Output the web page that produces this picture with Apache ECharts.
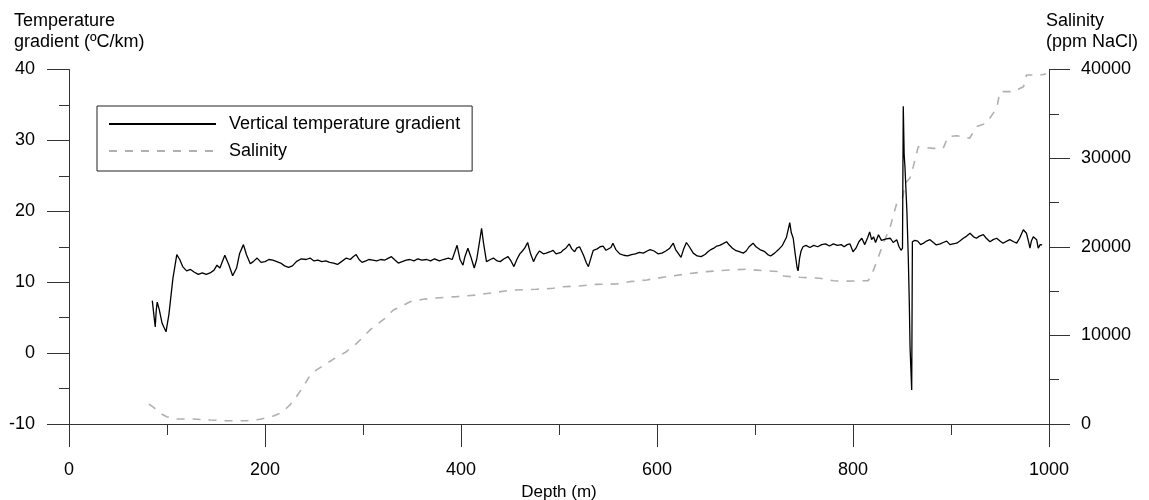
<!DOCTYPE html>
<html>
<head>
<meta charset="utf-8">
<script src="https://cdn.jsdelivr.net/npm/echarts@6.0.0/dist/echarts.min.js"></script>
<style>
  html, body { margin: 0; padding: 0; background: #fff; }
  #chart { width: 1149px; height: 500px; }
</style>
</head>
<body>
<div id="chart"></div>
<script>
// vertical temperature gradient (ºC/km) against depth (m)
const tempDepth = [85, 86.5, 88, 89, 90, 92, 95, 99, 102, 106, 110, 113, 116, 120, 124, 128, 132, 136, 140, 144,
    148, 151, 154, 159, 163, 167, 171, 174, 178, 181, 185, 188, 192, 196, 200, 204, 208, 212, 216, 220,
    224, 228, 232, 237, 242, 246, 250, 254, 258, 262, 266, 270, 274, 278, 283, 287, 290, 293, 296, 299,
    303, 306, 310, 314, 318, 322, 326, 329, 332, 336, 340, 344, 348, 352, 356, 360, 365, 369, 373, 378,
    382, 387, 391, 393, 396, 399, 402, 404, 407, 410, 413.5, 416, 419, 421, 423, 426, 430, 433, 437, 440,
    444, 448, 451, 454, 457, 460, 462, 465, 468, 471, 474, 477, 480, 484, 487, 491, 494, 497, 499, 502,
    504, 507, 510.5, 513, 516, 518, 521, 525, 528, 530, 533, 535, 539, 542, 545, 548, 550, 553, 555, 558,
    562, 566, 570, 574, 578, 582, 586, 590, 593, 597, 601, 605, 609, 613, 616.6, 619, 622, 624.5, 627, 630,
    633, 637, 641, 645, 649, 652, 655, 658, 661, 664, 667, 671, 674, 677, 680, 684, 688, 691, 694, 698,
    701, 705, 710, 713, 716, 720, 724, 728, 732, 735.5, 737, 739, 741, 743, 744, 745.5, 747, 749, 752, 756,
    760, 764, 768, 772, 776, 780, 784, 788, 791, 794, 797, 800, 803, 806, 809, 812, 815, 817, 819, 821,
    823, 826, 829, 831, 834, 838, 841, 844.6, 847, 849, 850.5, 851.3, 852.2, 853, 855, 856.4, 857.4, 858.2, 859.9, 860.6,
    863, 866, 869, 872, 875, 878.6, 882, 885, 889, 892, 895.6, 899, 902, 905.8, 909, 912.6, 916, 919.4, 923, 926,
    929, 933, 936, 939.8, 943, 946.6, 950, 953, 957, 960, 964, 967, 970, 973.8, 977, 979, 980.6, 982, 984, 987.4,
    989, 991, 993];
const tempValue = [7.4, 5.5, 3.7, 6.0, 7.2, 6.2, 4.2, 3.0, 5.5, 10.5, 13.9, 13.2, 12.2, 11.6, 11.8, 11.4, 11.1, 11.3, 11.1, 11.3,
    11.7, 12.4, 12.0, 13.8, 12.5, 10.9, 12.0, 14.0, 15.3, 13.9, 12.6, 12.9, 13.4, 12.8, 12.9, 13.2, 13.1, 12.9, 12.7, 12.3,
    12.1, 12.3, 12.9, 13.3, 13.2, 13.4, 13.0, 13.1, 12.9, 13.0, 12.8, 12.7, 12.5, 12.9, 13.4, 13.2, 13.6, 13.9, 13.2, 12.8,
    13.0, 13.2, 13.1, 13.0, 13.2, 13.1, 13.4, 13.6, 13.2, 12.7, 12.9, 13.1, 13.2, 13.0, 13.3, 13.1, 13.2, 13.0, 13.3, 13.0,
    13.2, 13.4, 13.2, 14.0, 15.2, 13.2, 12.4, 13.6, 14.8, 13.6, 12.0, 13.2, 15.8, 17.6, 15.5, 12.9, 13.2, 13.4, 13.0, 12.9,
    13.3, 13.6, 13.0, 12.2, 13.2, 14.0, 14.3, 14.8, 15.6, 14.0, 12.9, 13.8, 14.4, 14.0, 14.1, 14.3, 14.5, 14.0, 13.8, 14.2,
    14.5, 14.8, 15.4, 14.7, 14.3, 14.8, 15.0, 13.8, 12.7, 12.2, 13.6, 14.5, 14.7, 15.0, 15.1, 14.5, 14.3, 14.9, 15.5, 14.6,
    14.0, 13.8, 13.7, 13.9, 14.0, 14.2, 14.1, 14.4, 14.6, 14.4, 14.0, 14.1, 14.4, 14.8, 15.5, 14.6, 14.0, 13.5, 14.6, 15.6,
    15.0, 14.1, 13.7, 13.6, 13.9, 14.3, 14.6, 14.8, 15.1, 15.2, 15.4, 15.7, 15.2, 14.8, 14.5, 14.3, 14.1, 14.4, 15.0, 15.5,
    15.0, 14.6, 14.3, 13.9, 13.7, 14.1, 14.6, 15.2, 16.3, 18.4, 17.0, 16.2, 14.0, 12.0, 11.6, 13.4, 14.4, 15.0, 15.2, 14.9,
    15.2, 15.0, 15.3, 15.4, 15.1, 15.4, 15.2, 15.3, 15.0, 15.3, 15.4, 14.3, 14.8, 15.7, 16.2, 15.3, 16.3, 17.1, 16.0, 16.4,
    15.6, 16.7, 15.9, 15.7, 16.1, 16.2, 15.6, 16.0, 15.0, 14.5, 14.8, 34.8, 28.0, 26.3, 20.0, 13.6, 7.5, 0.9, -5.2, 15.7,
    15.9, 15.8, 15.3, 15.5, 15.8, 16.0, 15.6, 15.25, 15.4, 15.6, 15.8, 15.3, 15.4, 15.5, 15.8, 16.2, 16.5, 16.9, 16.4, 16.2,
    16.5, 16.7, 16.2, 15.7, 16.0, 16.2, 15.8, 15.5, 15.8, 16.0, 15.7, 15.5, 16.2, 17.4, 16.9, 15.8, 14.8, 15.8, 16.4, 16.0,
    14.8, 15.3, 15.25];

// salinity (ppm NaCl) against depth (m)
const salDepth = [81.6, 86, 89.5, 95, 99.7, 105, 110, 127, 144, 161, 181, 195, 208.5, 217, 225.5, 232, 239, 246, 252.7, 263,
    273, 283, 293.5, 300, 308, 315, 322.4, 331, 339.5, 348, 361.5, 375, 395.6, 416, 433, 453, 477, 494, 504, 521,
    538, 559, 572, 589.5, 610, 630, 650.7, 664, 677, 691.5, 708.5, 727, 729, 746, 766, 780, 788.5, 800, 815.6, 821,
    826, 831, 838, 844.6, 851, 853, 858, 861.5, 866.6, 882, 892, 897, 906, 919, 926, 936, 946.6, 950, 963.6, 974,
    977, 991, 997];
const salValue = [2250, 1900, 1580, 1100, 820, 650, 560, 560, 450, 370, 370, 530, 900, 1280, 2150, 3080, 4200, 5500, 6100, 6850,
    7530, 8160, 9100, 9800, 10700, 11300, 11930, 12860, 13300, 13800, 14070, 14220, 14370, 14560, 14820, 15120, 15200, 15310, 15490, 15570,
    15760, 15800, 16060, 16250, 16620, 16930, 17190, 17300, 17400, 17460, 17300, 17190, 16700, 16550, 16440, 16170, 16100, 16140, 16170, 17380,
    18880, 20390, 22260, 24900, 25650, 27160, 27730, 29040, 31290, 31100, 31100, 32420, 32530, 32240, 33550, 33930, 35620, 37500, 37500, 38060,
    39380, 39380, 39500];

const FONT = 'Liberation Sans, Arial, sans-serif';
const AXIS_COLOR = '#333';
const plain = v => String(v);   // no thousands separator

const chart = echarts.init(document.getElementById('chart'));

chart.setOption({
    animation: false,
    backgroundColor: '#fff',
    textStyle: { fontFamily: FONT },
    grid: {
        left: 69,
        right: 100,
        top: 69.5,
        bottom: 76,
        containLabel: false,
        outerBoundsMode: 'none'
    },
    legend: {
        orient: 'vertical',
        left: 97,
        top: 106,
        padding: [9, 12, 11, 11],
        itemGap: 9,
        itemWidth: 107,
        itemHeight: 16,
        borderColor: '#222',
        borderWidth: 1,
        itemStyle: { opacity: 0 },
        textStyle: { fontSize: 18, color: '#000', fontFamily: FONT, padding: [0, 0, 0, 8] },
        data: ['Vertical temperature gradient', 'Salinity']
    },
    graphic: [
        {
            type: 'text', left: 14, top: 11,
            style: { text: 'Temperature\ngradient (ºC/km)', fontSize: 18, lineHeight: 21, fill: '#000', fontFamily: FONT }
        },
        {
            type: 'text', left: 1046, top: 11,
            style: { text: 'Salinity\n(ppm NaCl)', fontSize: 18, lineHeight: 21, fill: '#000', fontFamily: FONT }
        }
    ],
    xAxis: {
        type: 'value',
        min: 0,
        max: 1000,
        interval: 200,
        name: 'Depth (m)',
        nameLocation: 'middle',
        nameGap: 59,
        nameTextStyle: { fontSize: 17, color: '#000', fontFamily: FONT },
        axisLine: { onZero: false, lineStyle: { color: AXIS_COLOR, width: 1 } },
        axisTick: { inside: false, length: 23, lineStyle: { color: AXIS_COLOR } },
        minorTick: { show: true, splitNumber: 2, length: 11, lineStyle: { color: AXIS_COLOR } },
        axisLabel: { margin: 37, fontSize: 18, color: '#000', fontFamily: FONT, formatter: plain },
        splitLine: { show: false }
    },
    yAxis: [
        {
            type: 'value',
            min: -10,
            max: 40,
            interval: 10,
            position: 'left',
            axisLine: { show: true, onZero: false, lineStyle: { color: AXIS_COLOR, width: 1 } },
            axisTick: { show: true, inside: false, length: 22, lineStyle: { color: AXIS_COLOR } },
            minorTick: { show: true, splitNumber: 2, length: 10, lineStyle: { color: AXIS_COLOR } },
            axisLabel: { margin: 34, fontSize: 18, color: '#000', fontFamily: FONT, formatter: plain },
            splitLine: { show: false }
        },
        {
            type: 'value',
            min: 0,
            max: 40000,
            interval: 10000,
            position: 'right',
            axisLine: { show: true, onZero: false, lineStyle: { color: AXIS_COLOR, width: 1 } },
            axisTick: { show: true, inside: false, length: 21, lineStyle: { color: AXIS_COLOR } },
            minorTick: { show: true, splitNumber: 2, length: 10, lineStyle: { color: AXIS_COLOR } },
            axisLabel: { margin: 32, fontSize: 18, color: '#000', fontFamily: FONT, formatter: plain },
            splitLine: { show: false }
        }
    ],
    series: [
        {
            name: 'Vertical temperature gradient',
            type: 'line',
            yAxisIndex: 0,
            symbol: 'none',
            color: '#000',
            lineStyle: { color: '#000', width: 1.3 },
            data: tempDepth.map((d, i) => [d, tempValue[i]]),
            z: 3
        },
        {
            name: 'Salinity',
            type: 'line',
            yAxisIndex: 1,
            symbol: 'none',
            color: '#b0b0b0',
            lineStyle: { color: '#b0b0b0', width: 1.6, type: [8, 8] },
            data: salDepth.map((d, i) => [d, salValue[i]]),
            z: 2
        }
    ]
});
</script>
</body>
</html>
